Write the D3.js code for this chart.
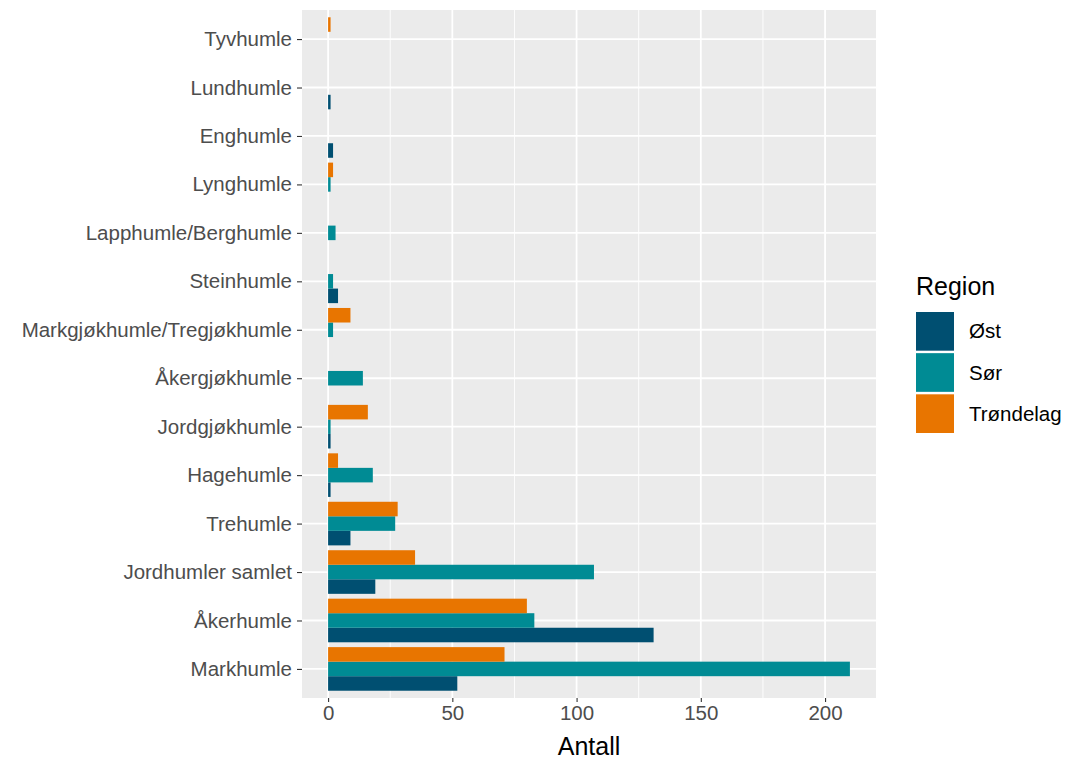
<!DOCTYPE html>
<html>
<head>
<meta charset="utf-8">
<script src="https://cdn.jsdelivr.net/npm/d3@7.9.0/dist/d3.min.js"></script>
<style>
  body { margin: 0; background: #fff; }
  text { font-family: "Liberation Sans", Arial, sans-serif; }
</style>
</head>
<body>
<div id="chart"></div>
<script>
// Species, listed bottom to top as in the chart
const species = ["Markhumle", "Åkerhumle", "Jordhumler samlet", "Trehumle", "Hagehumle",
  "Jordgjøkhumle", "Åkergjøkhumle", "Markgjøkhumle/Tregjøkhumle", "Steinhumle",
  "Lapphumle/Berghumle", "Lynghumle", "Enghumle", "Lundhumle", "Tyvhumle"];
const regions = ["Øst", "Sør", "Trøndelag"];
const ostValues = [52, 131, 19, 9, 1, 1, 0, 0, 4, 0, 0, 2, 1, 0];
const sorValues = [210, 83, 107, 27, 18, 1, 14, 2, 2, 3, 1, 0, 0, 0];
const trondelagValues = [71, 80, 35, 28, 4, 16, 0, 9, 0, 0, 2, 0, 0, 1];
const xTicks = [0, 50, 100, 150, 200];
const regionColors = ["#004f71", "#008b94", "#e87500"];

const seriesValues = [ostValues, sorValues, trondelagValues];
const data = [];
species.forEach((s, i) => {
  regions.forEach((r, j) => {
    if (seriesValues[j][i] > 0) data.push({ species: s, region: r, value: seriesValues[j][i] });
  });
});

const W = 1070, H = 760;
const panel = { left: 302, right: 876, top: 10, bottom: 698 };
const smallFont = "20.5px";
const titleFont = "25px";

const svg = d3.select("#chart").append("svg").attr("width", W).attr("height", H);

// x: continuous with ggplot 5% expansion
const xMax = d3.max(data, d => d.value);
const pad = xMax * 0.05;
const x = d3.scaleLinear().domain([0 - pad, xMax + pad]).range([panel.left, panel.right]);

// y: discrete positions 1..n with 0.6 expansion
const yPos = d3.scaleLinear().domain([0.4, species.length + 0.6]).range([panel.bottom, panel.top]);
const stepPx = Math.abs(yPos(1) - yPos(0));
// dodge offsets in pixels: first region (Øst) at the bottom
const dodge = d3.scaleBand().domain(regions).range([0.45 * stepPx, -0.45 * stepPx]);
const color = d3.scaleOrdinal().domain(regions).range(regionColors);

// panel background
svg.append("rect")
  .attr("x", panel.left).attr("y", panel.top)
  .attr("width", panel.right - panel.left).attr("height", panel.bottom - panel.top)
  .attr("fill", "#ebebeb");

// minor grid
const minor = d3.range(25, xMax + pad, 50);
svg.append("g").selectAll("line").data(minor).join("line")
  .attr("x1", d => x(d)).attr("x2", d => x(d))
  .attr("y1", panel.top).attr("y2", panel.bottom)
  .attr("stroke", "#fff").attr("stroke-width", 0.9);

// major grid
svg.append("g").selectAll("line").data(xTicks).join("line")
  .attr("x1", d => x(d)).attr("x2", d => x(d))
  .attr("y1", panel.top).attr("y2", panel.bottom)
  .attr("stroke", "#fff").attr("stroke-width", 1.8);
svg.append("g").selectAll("line").data(species).join("line")
  .attr("x1", panel.left).attr("x2", panel.right)
  .attr("y1", (d, i) => yPos(i + 1)).attr("y2", (d, i) => yPos(i + 1))
  .attr("stroke", "#fff").attr("stroke-width", 1.8);

// bars
svg.append("g").selectAll("rect").data(data).join("rect")
  .attr("x", x(0))
  .attr("y", d => yPos(species.indexOf(d.species) + 1) + dodge(d.region))
  .attr("width", d => x(d.value) - x(0))
  .attr("height", dodge.bandwidth())
  .attr("fill", d => color(d.region));

// x axis
const xAxis = svg.append("g")
  .attr("transform", `translate(0,${panel.bottom})`)
  .call(d3.axisBottom(x).tickValues(xTicks).tickSize(4).tickPadding(3));
xAxis.select(".domain").remove();
xAxis.selectAll("line").attr("stroke", "#333").attr("stroke-width", 1.1);
xAxis.selectAll("text").attr("fill", "#4d4d4d").style("font-size", smallFont)
  .style("font-family", "'Liberation Sans', Arial, sans-serif");

// y axis
const yAxis = svg.append("g")
  .attr("transform", `translate(${panel.left},0)`)
  .call(d3.axisLeft(yPos).tickValues(d3.range(1, species.length + 1))
    .tickFormat(i => species[i - 1]).tickSize(5).tickPadding(5));
yAxis.select(".domain").remove();
yAxis.selectAll("line").attr("stroke", "#333").attr("stroke-width", 1.1);
yAxis.selectAll("text").attr("fill", "#4d4d4d").style("font-size", smallFont)
  .style("font-family", "'Liberation Sans', Arial, sans-serif");

// axis title
svg.append("text")
  .attr("x", (panel.left + panel.right) / 2).attr("y", 755)
  .attr("text-anchor", "middle").style("font-size", titleFont).attr("fill", "#000")
  .text("Antall");

// legend
const legend = svg.append("g").attr("transform", "translate(916,0)");
legend.append("text").attr("x", 0).attr("y", 295)
  .style("font-size", titleFont).attr("fill", "#000").text("Region");
const keyTops = d3.scaleBand().domain(regions).range([312, 433]).paddingInner(0.06);
regions.forEach(r => {
  legend.append("rect")
    .attr("x", 0).attr("y", keyTops(r))
    .attr("width", 38).attr("height", keyTops.bandwidth())
    .attr("fill", color(r));
  legend.append("text")
    .attr("x", 53).attr("y", keyTops(r) + keyTops.bandwidth() / 2 + 7)
    .style("font-size", smallFont).attr("fill", "#000").text(r);
});
</script>
</body>
</html>
